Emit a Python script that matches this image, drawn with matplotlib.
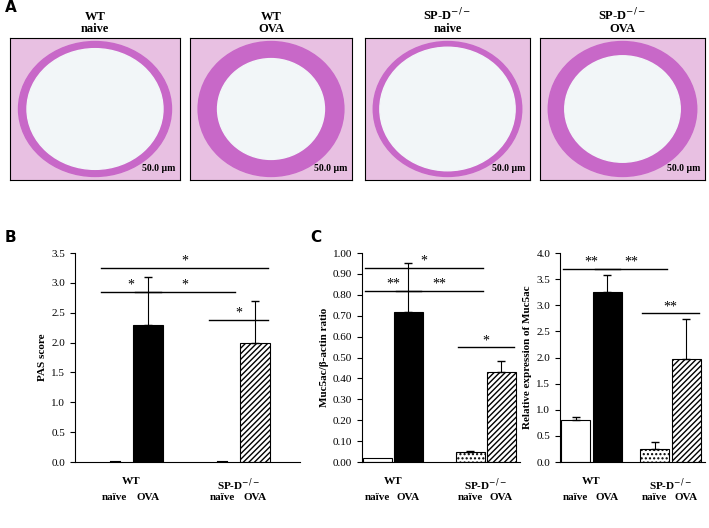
import matplotlib
matplotlib.use("Agg")
import matplotlib.pyplot as plt
from matplotlib.patches import Ellipse, Rectangle
import numpy as np

plt.rcParams['font.family'] = 'Liberation Serif'

img_titles = ["WT\nnaive", "WT\nOVA", "SP-D$^{-/-}$\nnaive", "SP-D$^{-/-}$\nOVA"]
groups = ["WT", "SP-D$^{-/-}$"]
conds = ["naïve", "OVA"]

pas_vals = [0.0, 2.3, 0.0, 2.0]
pas_err = [0.0, 0.8, 0.0, 0.7]
muc_ratio = [0.02, 0.72, 0.05, 0.43]
muc_ratio_err = [0.0, 0.23, 0.005, 0.055]
muc_rel = [0.8, 3.25, 0.25, 1.98]
muc_rel_err = [0.06, 0.32, 0.14, 0.75]

W, H = 709, 528
fig = plt.figure(figsize=(W/100, H/100), dpi=100)

def ax_px(x0, y0, x1, y1):
    return fig.add_axes([x0/W, 1-y1/H, (x1-x0)/W, (y1-y0)/H])

img_boxes = [(10, 38, 180, 180), (190, 38, 352, 180), (365, 38, 530, 180), (540, 38, 705, 180)]
for (x0, y0, x1, y1), t, thick in zip(img_boxes, img_titles, [0.05, 0.12, 0.04, 0.1]):
    a = ax_px(x0, y0, x1, y1)
    a.set_xlim(0, 1); a.set_ylim(0, 1)
    a.add_patch(Rectangle((0, 0), 1, 1, color='#e8c0e2'))
    a.add_patch(Ellipse((0.5, 0.5), 0.9, 0.95, color='#c868c8'))
    a.add_patch(Ellipse((0.5, 0.5), 0.9-2*thick, 0.95-2*thick, color='#f2f6f8'))
    a.text(0.97, 0.05, "50.0 µm", ha='right', va='bottom', fontsize=7, fontweight='bold')
    a.set_xticks([]); a.set_yticks([])
    fig.text((x0+x1)/2/W, 1-35/H, t, ha='center', va='bottom', fontsize=9, fontweight='bold', linespacing=1.0)

fig.text(5/W, 1-12/H, "A", fontsize=11, fontweight='bold', family='DejaVu Sans')
fig.text(5/W, 1-242/H, "B", fontsize=11, fontweight='bold', family='DejaVu Sans')
fig.text(310/W, 1-242/H, "C", fontsize=11, fontweight='bold', family='DejaVu Sans')

fills = ['white', 'black', 'white', 'white']
hatches = [None, None, '....', '//////']

def bar_panel(box, pos, xlim, vals, errs, ymax, step, fmt, ylabel, sig, dash_zero):
    a = ax_px(*box)
    for p, v, e, f, h in zip(pos, vals, errs, fills, hatches):
        if dash_zero and v == 0:
            a.plot([p-0.15, p+0.15], [0.005*ymax, 0.005*ymax], color='black', lw=0.8)
            continue
        a.bar(p, v, width=0.92, color=f, edgecolor='black', hatch=h, lw=0.8)
        if e > 0:
            a.errorbar(p, v, yerr=[[0], [e]], color='black', capsize=3, lw=0.8)
    a.set_xlim(*xlim)
    a.set_ylim(0, ymax)
    ticks = np.arange(0, ymax + 1e-9, step)
    a.set_yticks(ticks)
    a.set_yticklabels([fmt.format(t) for t in ticks], fontsize=8)
    a.set_xticks([])
    a.spines['top'].set_visible(False); a.spines['right'].set_visible(False)
    a.set_ylabel(ylabel, fontsize=8, fontweight='bold', labelpad=3)
    for i, j, y, s in sig:
        a.plot([pos[i]-0.4, pos[j]+0.4], [y, y], color='black', lw=1, clip_on=False)
        a.text((pos[i]+pos[j])/2, y, s, ha='center', va='bottom', fontsize=10)
    for gi, g in enumerate(groups):
        c = (pos[2*gi]+pos[2*gi+1])/2
        a.text(c, -0.07*ymax, g, ha='center', va='top', fontsize=8, fontweight='bold')
        for k in range(2):
            a.text(pos[2*gi+k], -0.15*ymax, conds[k], ha='center', va='top', fontsize=8, fontweight='bold')
    return a

bar_panel((75, 253, 300, 462), [0, 1, 3.24, 4.24], (-1.2, 5.6), pas_vals, pas_err, 3.5, 0.5, "{:.1f}",
          "PAS score",
          [(0, 3, 3.25, "*"), (0, 1, 2.85, "*"), (1, 2, 2.85, "*"), (2, 3, 2.38, "*")], True)
bar_panel((362, 253, 520, 462), [0, 1, 3, 4], (-0.5, 4.6), muc_ratio, muc_ratio_err, 1.0, 0.1, "{:.2f}",
          "Muc5ac/β-actin ratio",
          [(0, 2, 0.93, "*"), (0, 1, 0.82, "**"), (1, 2, 0.82, "**"), (2, 3, 0.55, "*")], False)
bar_panel((560, 253, 705, 462), [0, 1, 2.5, 3.5], (-0.5, 4.1), muc_rel, muc_rel_err, 4.0, 0.5, "{:.1f}",
          "Relative expression of Muc5ac",
          [(0, 1, 3.7, "**"), (1, 2, 3.7, "**"), (2, 3, 2.85, "**")], False)

fig.savefig("out.png", dpi=100)
